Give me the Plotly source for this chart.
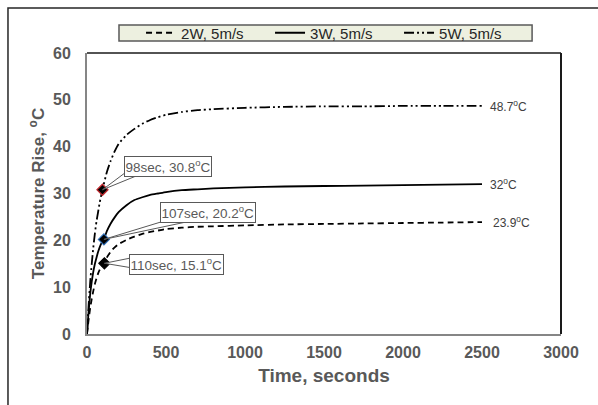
import plotly.graph_objects as go

# Transient temperature rise of the heated element at 5 m/s airflow
time_2w = [0, 5, 10, 20, 30, 40, 50, 60, 70, 80, 90, 110, 125, 150, 175, 200, 250,
           300, 350, 400, 450, 500, 600, 700, 800, 1000, 1250, 1500, 1750, 2000,
           2250, 2500]
rise_2w = [0, 1.5, 3.0, 5.5, 7.5, 9.2, 10.7, 11.9, 12.9, 13.7, 14.3, 15.1, 16.3,
           17.6, 18.5, 19.2, 20.1, 20.8, 21.4, 21.8, 22.1, 22.4, 22.7, 22.9, 23.0,
           23.2, 23.4, 23.5, 23.6, 23.7, 23.8, 23.9]

time_3w = [0, 5, 10, 20, 30, 40, 50, 60, 70, 80, 90, 107, 125, 150, 175, 200, 250,
           300, 350, 400, 450, 500, 600, 700, 800, 1000, 1250, 1500, 1750, 2000,
           2250, 2500]
rise_3w = [0, 2.5, 4.7, 8.5, 11.2, 13.3, 15.0, 16.3, 17.5, 18.5, 19.3, 20.2, 21.9,
           23.6, 24.9, 26.0, 27.5, 28.6, 29.2, 29.7, 30.0, 30.3, 30.7, 30.9, 31.1,
           31.3, 31.5, 31.6, 31.7, 31.8, 31.9, 32.0]

time_5w = [0, 5, 10, 20, 30, 40, 50, 60, 70, 80, 90, 98, 125, 150, 175, 200, 250,
           300, 350, 400, 450, 500, 600, 700, 800, 1000, 1250, 1500, 1750, 2000,
           2250, 2500]
rise_5w = [0, 3.0, 6.0, 11.0, 15.0, 18.5, 21.5, 24.0, 26.0, 28.0, 29.6, 30.8, 34.5,
           37.0, 39.0, 40.6, 42.5, 43.8, 44.9, 45.7, 46.3, 46.8, 47.4, 47.8, 48.0,
           48.3, 48.5, 48.6, 48.6, 48.7, 48.7, 48.7]

series_names = ["2W, 5m/s", "3W, 5m/s", "5W, 5m/s"]
series_times = [time_2w, time_3w, time_5w]
series_values = [rise_2w, rise_3w, rise_5w]
series_dash = ["6px,4px", "solid", "10px,3px,2px,3px,2px,3px"]

# Marked points (seconds, °C) and their callout labels
mark_t = [110, 107, 98]
mark_v = [15.1, 20.2, 30.8]
mark_edge = ["#000000", "#2E6DB4", "#C0282D"]
final_v = [23.9, 32, 48.7]
final_labels = ["23.9<sup>o</sup>C", "32<sup>o</sup>C", "48.7<sup>o</sup>C"]
final_x = [2560, 2540, 2540]

FONT = "Arial, Liberation Sans, sans-serif"
GREY = "#595959"

fig = go.Figure()

for name, ts, vals, dash in zip(series_names, series_times, series_values, series_dash):
    fig.add_trace(go.Scatter(
        x=ts, y=vals, mode="lines", name=name,
        line=dict(color="#000000", width=1.8, dash=dash, shape="spline", smoothing=0.5),
    ))

for t, v, edge in zip(mark_t, mark_v, mark_edge):
    fig.add_trace(go.Scatter(
        x=[t], y=[v], mode="markers", showlegend=False,
        marker=dict(symbol="diamond", size=8.5, color="#000000",
                    line=dict(color=edge, width=1.2)),
    ))

# Callout boxes: (pixel offset of box centre, wedge path from the marked point)
callouts = [
    (72, -1, "M0,0 L30,6 L30,-5 Z"),
    (104, 27, "M0,0 L72,22 L104,22 Z"),
    (66, 23, "M0,0 L24,18 L44,18 Z"),
]
shapes = []
annotations = []
for t, v, (dx, dy, path) in zip(mark_t, mark_v, callouts):
    shapes.append(dict(
        type="path", xref="x", yref="y", xsizemode="pixel", ysizemode="pixel",
        xanchor=t, yanchor=v, path=path, fillcolor="white",
        line=dict(color=GREY, width=1), layer="above",
    ))
    annotations.append(dict(
        x=t, y=v, xref="x", yref="y", showarrow=False,
        xshift=dx, yshift=dy,
        text=f"{t}sec, {v}<sup>o</sup>C",
        font=dict(family=FONT, size=13.5, color=GREY),
        bgcolor="white", bordercolor=GREY, borderwidth=1, borderpad=0.5,
    ))

for v, lab, fx in zip(final_v, final_labels, final_x):
    annotations.append(dict(
        x=fx, y=v, xref="x", yref="y", showarrow=False, xanchor="left",
        text=lab, font=dict(family=FONT, size=12, color="#404040"),
    ))

# Plot-area frame (top/right), legend panel and outer chart border
shapes += [
    dict(type="line", xref="paper", yref="paper", x0=0, x1=1, y0=1, y1=1,
         line=dict(color="#1a1a1a", width=1.5), layer="below"),
    dict(type="line", xref="paper", yref="paper", x0=1, x1=1, y0=0, y1=1,
         line=dict(color="#1a1a1a", width=2), layer="below"),
    dict(type="rect", xref="paper", yref="paper", x0=0.0675, x1=0.939,
         y0=1.0427, y1=1.0996, fillcolor="#EDF0E0",
         line=dict(color=GREY, width=1.5), layer="below"),
    dict(type="rect", xref="paper", yref="paper", x0=-0.1667, x1=1.3,
         y0=-0.4, y1=1.160, line=dict(color="#262626", width=1.5), layer="below"),
]

fig.update_layout(
    width=598, height=405,
    margin=dict(l=87, r=37, t=53, b=71),
    paper_bgcolor="white", plot_bgcolor="white",
    font=dict(family=FONT, color=GREY),
    showlegend=True,
    legend=dict(
        orientation="h", x=0.114, xanchor="left", y=1.0712, yanchor="middle",
        bgcolor="rgba(0,0,0,0)", borderwidth=0,
        font=dict(family=FONT, size=15, color="#262626"),
        entrywidth=84, entrywidthmode="pixels", itemwidth=30,
        tracegroupgap=0,
    ),
    xaxis=dict(
        range=[0, 3000], tickvals=[0, 500, 1000, 1500, 2000, 2500, 3000],
        showgrid=False, zeroline=False,
        showline=True, linecolor="#868686", linewidth=2,
        ticks="outside", ticklen=3, tickcolor="rgba(0,0,0,0)",
        tickfont=dict(family=FONT, size=16, color=GREY, weight="bold"),
        title=dict(text="Time, seconds", standoff=8,
                   font=dict(family=FONT, size=19, color=GREY, weight="bold")),
    ),
    yaxis=dict(
        range=[0, 60], tickvals=[0, 10, 20, 30, 40, 50, 60],
        showgrid=False, zeroline=False,
        showline=True, linecolor="#868686", linewidth=2,
        ticks="outside", ticklen=11, tickcolor="rgba(0,0,0,0)",
        tickfont=dict(family=FONT, size=16, color=GREY, weight="bold"),
        title=dict(text="Temperature Rise, <sup>o</sup>C", standoff=4,
                   font=dict(family=FONT, size=17, color=GREY, weight="bold")),
    ),
    shapes=shapes,
    annotations=annotations,
)

fig.write_html("out.html")
